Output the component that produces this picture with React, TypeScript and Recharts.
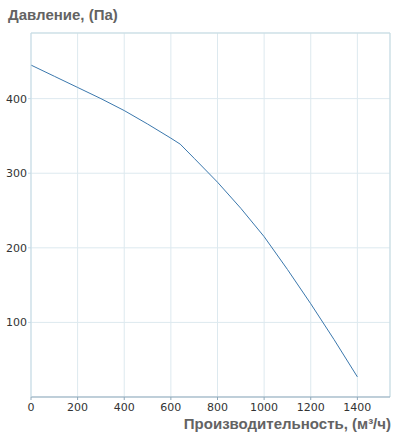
import React from "react";
import { LineChart, Line, XAxis, YAxis, CartesianGrid, ReferenceLine } from "recharts";

const flow = [0, 100, 200, 300, 400, 500, 600, 640, 700, 800, 900, 1000, 1100, 1200, 1300, 1400];
const pressure = [445, 430, 415, 400, 384, 366, 347, 339, 320, 288, 253, 215, 171, 125, 77, 27];
const xTicks = [0, 200, 400, 600, 800, 1000, 1200, 1400];
const yTicks = [100, 200, 300, 400];

const data = flow.map((q, i) => ({ q, p: pressure[i] }));

const tickStyle = { fontFamily: "DejaVu Sans, Verdana, sans-serif", fontSize: 11, fill: "#333" };

export default function App() {
  return (
    <div style={{ position: "absolute", left: 0, top: 0, width: 400, height: 436, background: "#fff" }}>
      <LineChart width={400} height={436} data={data} margin={{ top: 33, right: 10, left: 0, bottom: 0 }}>
        <CartesianGrid stroke="#dde9ef" strokeWidth={1} />
        <XAxis
          dataKey="q"
          type="number"
          domain={[0, 1540]}
          ticks={xTicks}
          height={39}
          tickSize={3}
          tickMargin={3}
          stroke="#8fa9bb"
          tick={tickStyle}
          interval={0}
        />
        <YAxis
          type="number"
          domain={[0, 488]}
          ticks={yTicks}
          width={31}
          tickSize={3}
          tickMargin={1}
          stroke="#c6dbe5"
          tick={tickStyle}
          interval={0}
        />
        <ReferenceLine y={488} stroke="#c5dbe2" strokeWidth={1} />
        <ReferenceLine x={1540} stroke="#c5dbe2" strokeWidth={1} />
        <Line
          dataKey="p"
          type="linear"
          stroke="#3b78ad"
          strokeWidth={1}
          dot={false}
          isAnimationActive={false}
        />
      </LineChart>
      <div
        style={{
          position: "absolute",
          left: 8,
          top: 6,
          fontFamily: "Liberation Sans, Arial, sans-serif",
          fontWeight: "bold",
          fontSize: 15,
          color: "#636363",
          whiteSpace: "nowrap",
        }}
      >
        Давление, (Па)
      </div>
      <div
        style={{
          position: "absolute",
          right: 9,
          top: 415,
          fontFamily: "Liberation Sans, Arial, sans-serif",
          fontWeight: "bold",
          fontSize: 15,
          color: "#636363",
          whiteSpace: "nowrap",
        }}
      >
        Производительность, (м³/ч)
      </div>
    </div>
  );
}
